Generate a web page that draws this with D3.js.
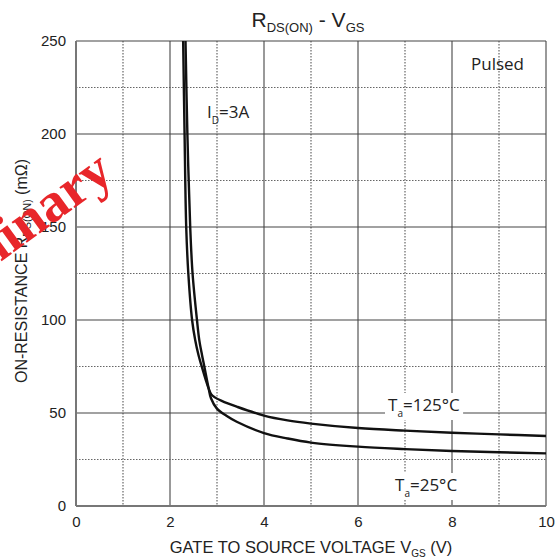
<!DOCTYPE html>
<html lang="en">
<head>
<meta charset="UTF-8">
<title>RDS(ON) - VGS</title>
<script src="https://cdn.jsdelivr.net/npm/d3@7/dist/d3.min.js"></script>
<style>
  body{margin:0;background:#fff;}
  text{font-family:"Liberation Sans",Arial,sans-serif;fill:#222;}
  .note{font-family:"Open Sans","Noto Sans",sans-serif;}
</style>
</head>
<body>
<script>
// values
var vgs125 = [2.28, 2.31, 2.345, 2.39, 2.47, 2.536, 2.606, 2.672, 2.762, 2.819, 2.879, 2.953, 3.1, 3.42, 4.0, 4.5, 5, 6, 7, 8, 9, 10];
var rds125 = [250, 200, 150, 125, 100, 89.2, 81.2, 75.3, 67.7, 63.4, 60, 58.4, 56.5, 53.4, 48.6, 46.0, 44.3, 41.9, 40.5, 39.4, 38.5, 37.6];
var vgs25 = [2.33, 2.37, 2.43, 2.48, 2.574, 2.623, 2.681, 2.728, 2.821, 2.872, 2.994, 3.2, 3.42, 4.0, 4.5, 5, 6, 7, 8, 9, 10];
var rds25 = [250, 200, 150, 125, 100, 89.2, 81.2, 75.3, 63.4, 57.9, 52.5, 48.5, 45.3, 39.2, 36.3, 34.1, 31.9, 30.6, 29.6, 28.9, 28.3];
var xTicks = [0, 2, 4, 6, 8, 10];
var yTicks = [0, 50, 100, 150, 200, 250];
var xMinor = [1, 3, 5, 7, 9];
var yMinor = [25, 75, 125, 175, 225];

window.addEventListener('load', function(){
  var W = 559, H = 560;
  var m = {l:76, t:41, r:13, b:54};
  var w = W - m.l - m.r, h = H - m.t - m.b;

  var svg = d3.select('body').append('svg').attr('width', W).attr('height', H);
  var g = svg.append('g').attr('transform', 'translate(' + m.l + ',' + m.t + ')');

  var x = d3.scaleLinear().domain([0, 10]).range([0, w]);
  var y = d3.scaleLinear().domain([0, 250]).range([h, 0]);

  // dotted minor grid
  g.selectAll('.mx').data(xMinor).enter().append('line')
    .attr('x1', function(d){ return x(d); }).attr('x2', function(d){ return x(d); })
    .attr('y1', 0).attr('y2', h)
    .attr('stroke', '#666').attr('stroke-width', 1.2).attr('stroke-dasharray', '1.5,1.5');
  g.selectAll('.my').data(yMinor).enter().append('line')
    .attr('x1', 0).attr('x2', w)
    .attr('y1', function(d){ return y(d); }).attr('y2', function(d){ return y(d); })
    .attr('stroke', '#666').attr('stroke-width', 1.2).attr('stroke-dasharray', '1.5,1.5');

  // solid major grid
  g.selectAll('.gx').data(xTicks).enter().append('line')
    .attr('x1', function(d){ return x(d); }).attr('x2', function(d){ return x(d); })
    .attr('y1', 0).attr('y2', h)
    .attr('stroke', '#555').attr('stroke-width', 1.2);
  g.selectAll('.gy').data(yTicks).enter().append('line')
    .attr('x1', 0).attr('x2', w)
    .attr('y1', function(d){ return y(d); }).attr('y2', function(d){ return y(d); })
    .attr('stroke', '#444').attr('stroke-width', 1.2);

  // axis lines
  g.append('line').attr('x1', 0).attr('x2', 0).attr('y1', 0).attr('y2', h)
    .attr('stroke', '#777').attr('stroke-width', 2);
  g.append('line').attr('x1', 0).attr('x2', w).attr('y1', h).attr('y2', h)
    .attr('stroke', '#777').attr('stroke-width', 2);

  // curves
  var line = d3.line()
    .x(function(d){ return x(d[0]); })
    .y(function(d){ return y(d[1]); })
    .curve(d3.curveCatmullRom.alpha(0.5));
  [[vgs125, rds125], [vgs25, rds25]].forEach(function(s){
    g.append('path')
      .datum(d3.zip(s[0], s[1]))
      .attr('d', line)
      .attr('fill', 'none').attr('stroke', '#111').attr('stroke-width', 2.4);
  });

  // tick labels
  var ax = g.append('g').attr('transform', 'translate(0,' + h + ')')
    .call(d3.axisBottom(x).tickValues(xTicks).tickSize(0).tickPadding(10));
  var ay = g.append('g')
    .call(d3.axisLeft(y).tickValues(yTicks).tickSize(0).tickPadding(10));
  [ax, ay].forEach(function(a){
    a.select('.domain').remove();
    a.selectAll('text').style('font-family', '"Liberation Sans",Arial,sans-serif')
      .style('font-size', '15px').attr('fill', '#222');
  });

  // title
  var t = svg.append('text').attr('x', 308).attr('y', 27).attr('text-anchor', 'middle')
    .style('font-size', '21px');
  t.append('tspan').text('R');
  t.append('tspan').attr('dy', 5).style('font-size', '13px').text('DS(ON)');
  t.append('tspan').attr('dy', -5).text(' - V');
  t.append('tspan').attr('dy', 5).style('font-size', '13px').text('GS');

  // x axis title
  var xt = svg.append('text').attr('x', 311).attr('y', 553).attr('text-anchor', 'middle')
    .style('font-size', '16.5px');
  xt.append('tspan').text('GATE TO SOURCE VOLTAGE V');
  xt.append('tspan').attr('dy', 4).style('font-size', '10px').text('GS');
  xt.append('tspan').attr('dy', -4).text(' (V)');

  // y axis title
  var yt = svg.append('text').attr('transform', 'translate(27,271) rotate(-90)')
    .attr('text-anchor', 'middle').style('font-size', '16px');
  yt.append('tspan').text('ON-RESISTANCE R');
  yt.append('tspan').attr('dy', 4).style('font-size', '10.5px').text('DS(ON)');
  yt.append('tspan').attr('dy', -4).text(' (m\u03A9)');

  // annotations
  function note(px, py, main, sub, rest, bg){
    var gg = svg.append('g');
    var tx = gg.append('text').attr('class', 'note').attr('x', px).attr('y', py)
      .style('font-size', '17px');
    tx.append('tspan').text(main);
    if (sub) {
      tx.append('tspan').attr('dy', 6).style('font-size', '10px').text(sub);
      tx.append('tspan').attr('dy', -6).text(rest);
    }
    if (bg) {
      var b = tx.node().getBBox();
      gg.insert('rect', 'text').attr('x', b.x - 3).attr('y', b.y)
        .attr('width', b.width + 6).attr('height', b.height).attr('fill', '#fff');
    }
  }
  note(471, 70, 'Pulsed');
  note(207, 118, 'I', 'D', '=3A');
  note(388, 411, 'T', 'a', '=125\u00B0C', true);
  note(395, 491, 'T', 'a', '=25\u00B0C', true);

  // watermark
  svg.append('text').attr('transform', 'translate(116,178) rotate(-36)')
    .attr('text-anchor', 'end')
    .style('font-family', '"Liberation Serif","Times New Roman",serif')
    .style('font-weight', 'bold').style('font-size', '56px')
    .style('fill', '#e8262a')
    .text('Preliminary');
}, false);
</script>
</body>
</html>
